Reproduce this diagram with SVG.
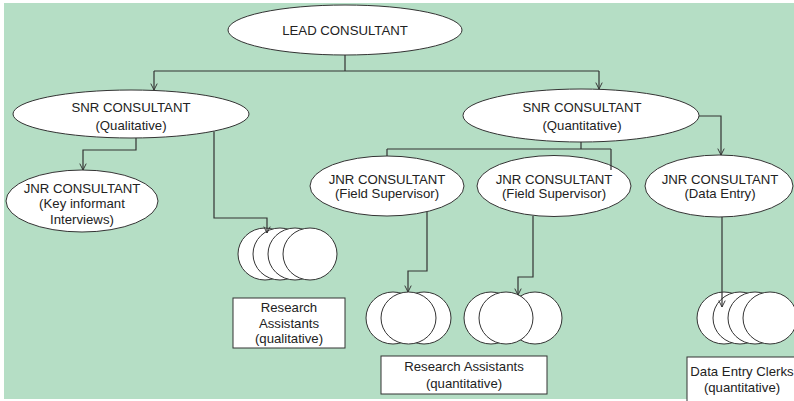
<svg xmlns="http://www.w3.org/2000/svg" width="794" height="401" viewBox="0 0 794 401">
<style>
.n{fill:#fff;stroke:#333;stroke-width:1}
.c{fill:none;stroke:#333;stroke-width:1.2}
text{font-family:"Liberation Sans",Arial,sans-serif;font-size:13.2px;fill:#222;text-anchor:middle}
</style>
<defs>
<marker id="ah" viewBox="0 0 10 10" refX="9" refY="5" markerWidth="8" markerHeight="8" markerUnits="userSpaceOnUse" orient="auto">
<path d="M1,1 L9,5 L1,9" fill="none" stroke="#333" stroke-width="1.2"/>
</marker>
</defs>
<rect x="0" y="0" width="794" height="401" fill="#fff"/>
<rect x="4" y="3" width="790" height="396" fill="#b5dec5"/>
<g id="lead">
<ellipse class="n" cx="345" cy="30" rx="117" ry="25"/>
<text x="345" y="34.5">LEAD CONSULTANT</text>
</g>
<g id="snr-qual">
<ellipse class="n" cx="131" cy="114" rx="118" ry="24"/>
<text x="131" y="111.5">SNR CONSULTANT</text>
<text x="131" y="129.5">(Qualitative)</text>
</g>
<g id="snr-quant">
<ellipse class="n" cx="581" cy="115.5" rx="118" ry="26.5"/>
<text x="582" y="111.5">SNR CONSULTANT</text>
<text x="582" y="129.5">(Quantitative)</text>
</g>
<g id="jnr-key">
<ellipse class="n" cx="82" cy="201" rx="76" ry="31"/>
<text x="82" y="192.5">JNR CONSULTANT</text>
<text x="82" y="208">(Key informant</text>
<text x="82" y="223.5">Interviews)</text>
</g>
<g id="jnr-field1">
<ellipse class="n" cx="387" cy="186" rx="77" ry="30"/>
<text x="387" y="183.5">JNR CONSULTANT</text>
<text x="387" y="198">(Field Supervisor)</text>
</g>
<g id="jnr-field2">
<ellipse class="n" cx="554" cy="186" rx="77" ry="30.5"/>
<text x="554" y="183.5">JNR CONSULTANT</text>
<text x="554" y="198">(Field Supervisor)</text>
</g>
<g id="jnr-data">
<ellipse class="n" cx="719" cy="186" rx="74" ry="31"/>
<text x="720" y="183.5">JNR CONSULTANT</text>
<text x="720" y="198">(Data Entry)</text>
</g>
<g id="ra-qual-group">
<ellipse class="n" cx="265" cy="254" rx="27" ry="26"/>
<ellipse class="n" cx="280" cy="254" rx="27" ry="26"/>
<ellipse class="n" cx="295" cy="254" rx="27" ry="26"/>
<ellipse class="n" cx="310" cy="254" rx="27" ry="26"/>
</g>
<g id="ra-qual-label">
<rect class="n" x="233" y="298" width="112" height="50"/>
<text x="289" y="311.5">Research</text>
<text x="289" y="327.5">Assistants</text>
<text x="289" y="343">(qualitative)</text>
</g>
<g id="ra-quant-group1">
<ellipse class="n" cx="393" cy="318" rx="27" ry="26"/>
<ellipse class="n" cx="424" cy="318" rx="27" ry="26"/>
<ellipse class="n" cx="408.5" cy="318" rx="27.5" ry="26"/>
</g>
<g id="ra-quant-group2">
<ellipse class="n" cx="491" cy="318" rx="27" ry="26"/>
<ellipse class="n" cx="535" cy="318" rx="27" ry="26"/>
<ellipse class="n" cx="506" cy="318" rx="27" ry="26"/>
</g>
<g id="ra-quant-label">
<rect class="n" x="381" y="356" width="166" height="38"/>
<text x="464" y="370.5">Research Assistants</text>
<text x="464" y="387.5">(quantitative)</text>
</g>
<g id="dec-group">
<ellipse class="n" cx="724" cy="318" rx="27" ry="26"/>
<ellipse class="n" cx="740" cy="318" rx="27" ry="26"/>
<ellipse class="n" cx="755" cy="318" rx="27" ry="26"/>
<ellipse class="n" cx="770" cy="318" rx="27" ry="26"/>
</g>
<g id="dec-label">
<rect class="n" x="687" y="357" width="120" height="60"/>
<text x="742" y="375.5">Data Entry Clerks</text>
<text x="742" y="391.5">(quantitative)</text>
</g>
<g id="connectors">
<path class="c" d="M345,55 V71 M154,71 H599"/>
<path class="c" d="M154,71 V90" marker-end="url(#ah)"/>
<path class="c" d="M599,71 V89" marker-end="url(#ah)"/>
<path class="c" d="M136,138 V150 H83 V170" marker-end="url(#ah)"/>
<path class="c" d="M214,131.5 V218 H267 V233" marker-end="url(#ah)"/>
<path class="c" d="M581,142 V149 M387,149 H611 M387,149 V156 M611,149 V170"/>
<path class="c" d="M699,116 H721 V155" marker-end="url(#ah)"/>
<path class="c" d="M427,212 V271 H408 V292" marker-end="url(#ah)"/>
<path class="c" d="M533,216 V277 H518 V295" marker-end="url(#ah)"/>
<path class="c" d="M722,217 V307" marker-end="url(#ah)"/>
</g>
</svg>
